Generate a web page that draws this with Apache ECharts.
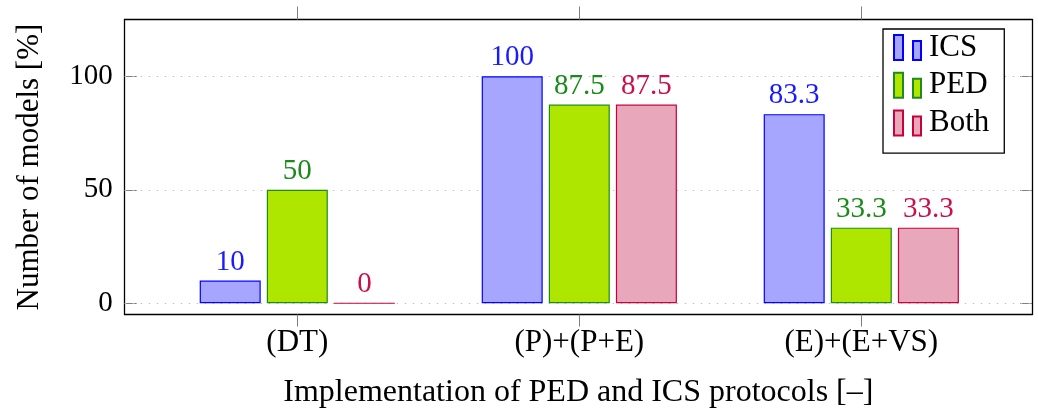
<!DOCTYPE html>
<html>
<head>
<meta charset="utf-8">
<script src="https://cdn.jsdelivr.net/npm/echarts@6/dist/echarts.min.js"></script>
<style>
html,body{margin:0;padding:0;background:#fff;}
#chart{width:1038px;height:410px;}
</style>
</head>
<body>
<div id="chart"></div>
<script>
const categories = ['(DT)', '(P)+(P+E)', '(E)+(E+VS)'];
const icsValues = [10, 100, 83.3];
const pedValues = [50, 87.5, 33.3];
const bothValues = [0, 87.5, 33.3];
const yTicks = [0, 50, 100];
const seriesNames = ['ICS', 'PED', 'Both'];

const FONT = 'Liberation Serif';
const FS = 29;
const FS_TEXT = 31;
const TOP = 19.5, BOTTOM = 95.4;

const chart = echarts.init(document.getElementById('chart'), null, {renderer: 'canvas'});

const styles = [
  {fill: '#a6a6ff', border: '#0000ff', label: '#1a1aff'},
  {fill: '#aee600', border: '#1f8a1f', label: '#1a8a1a'},
  {fill: '#e8a7bb', border: '#c8003c', label: '#c8104a'}
];
const dataSets = [icsValues, pedValues, bothValues];

const icon = 'path://M0,0H9V25H0Z M19,6H27V25H19Z';

const option = {
  animation: false,
  backgroundColor: '#fff',
  textStyle: {fontFamily: FONT},
  grid: [
    {left: 124.7, right: 6, top: TOP, bottom: BOTTOM, containLabel: false, outerBoundsMode: 'none'},
    {left: 156.3, width: 846, top: TOP, bottom: BOTTOM, containLabel: false, outerBoundsMode: 'none'}
  ],
  legend: {
    data: seriesNames,
    orient: 'vertical',
    left: 883,
    top: 29,
    padding: [0, 15, 11.7, 10],
    itemGap: 0.7,
    itemWidth: 27,
    itemHeight: 25,
    icon: icon,
    borderColor: '#000',
    borderWidth: 1.3,
    backgroundColor: '#fff',
    textStyle: {fontFamily: FONT, fontSize: FS_TEXT, color: '#000', lineHeight: 31, padding: [6, 0, 0, 3]}
  },
  xAxis: [
    {
      type: 'value', gridIndex: 0, min: 0, max: 1, position: 'bottom',
      axisLine: {show: true, onZero: false, lineStyle: {color: '#000', width: 1.3}},
      axisTick: {show: false}, axisLabel: {show: false}, splitLine: {show: false},
      name: 'Implementation of PED and ICS protocols [–]',
      nameLocation: 'middle', nameGap: 62,
      nameTextStyle: {fontFamily: FONT, fontSize: FS_TEXT + 1, color: '#000'}
    },
    {
      type: 'value', gridIndex: 0, min: 0, max: 1, position: 'top',
      axisLine: {show: true, onZero: false, lineStyle: {color: '#000', width: 1.3}},
      axisTick: {show: false}, axisLabel: {show: false}, splitLine: {show: false}
    },
    {
      type: 'category', gridIndex: 1, data: categories, position: 'bottom',
      axisLine: {show: false, onZero: false},
      axisTick: {show: true, alignWithLabel: true, inside: false, length: 12, lineStyle: {color: '#808080', width: 1}},
      axisLabel: {fontFamily: FONT, fontSize: FS_TEXT, color: '#000', margin: 13},
      splitLine: {show: false}
    },
    {
      type: 'category', gridIndex: 1, data: categories, position: 'top',
      axisLine: {show: false, onZero: false},
      axisTick: {show: true, alignWithLabel: true, inside: false, length: 13, lineStyle: {color: '#808080', width: 1}},
      axisLabel: {show: false},
      splitLine: {show: false}
    }
  ],
  yAxis: [
    {
      type: 'value', gridIndex: 0, min: -5, max: 125, position: 'left',
      axisLine: {show: true, onZero: false, lineStyle: {color: '#000', width: 1.3}},
      axisTick: {show: true, inside: true, length: 12, lineStyle: {color: '#808080'},
        customValues: yTicks},
      axisLabel: {fontFamily: FONT, fontSize: FS, color: '#000', margin: 12,
        customValues: yTicks},
      splitLine: {show: false},
      name: 'Number of models [%]',
      nameLocation: 'middle', nameGap: 79,
      nameTextStyle: {fontFamily: FONT, fontSize: FS_TEXT, color: '#000'}
    },
    {
      type: 'value', gridIndex: 0, min: -5, max: 125, position: 'right',
      axisLine: {show: true, onZero: false, lineStyle: {color: '#000', width: 1.3}},
      axisTick: {show: true, inside: true, length: 12, lineStyle: {color: '#808080'}, customValues: yTicks},
      axisLabel: {show: false},
      splitLine: {show: false}
    },
    {
      type: 'value', gridIndex: 1, min: -5, max: 125, show: false
    }
  ],
  series: seriesNames.map((name, i) => ({
    name: name,
    type: 'bar',
    xAxisIndex: 2,
    yAxisIndex: 2,
    z: 3,
    data: dataSets[i],
    barWidth: 61,
    barGap: '10%',
    itemStyle: {color: styles[i].fill, borderColor: styles[i].border, borderWidth: 1.2},
    label: {
      show: true, position: 'top', distance: 4,
      fontFamily: FONT, fontSize: FS, color: styles[i].label,
      formatter: p => String(p.value)
    }
  }))
};

// Dotted grid lines only at the tick values (0, 50, 100), drawn beneath the bars
option.series.unshift({
  type: 'line', xAxisIndex: 0, yAxisIndex: 0, silent: true, data: [], z: 1,
  markLine: {
    symbol: 'none', silent: true, label: {show: false}, z: 1,
    lineStyle: {color: '#c0c0c0', type: [1.5, 6.5], width: 1},
    data: yTicks.map(v => ({yAxis: v}))
  }
});

chart.setOption(option);
</script>
</body>
</html>
